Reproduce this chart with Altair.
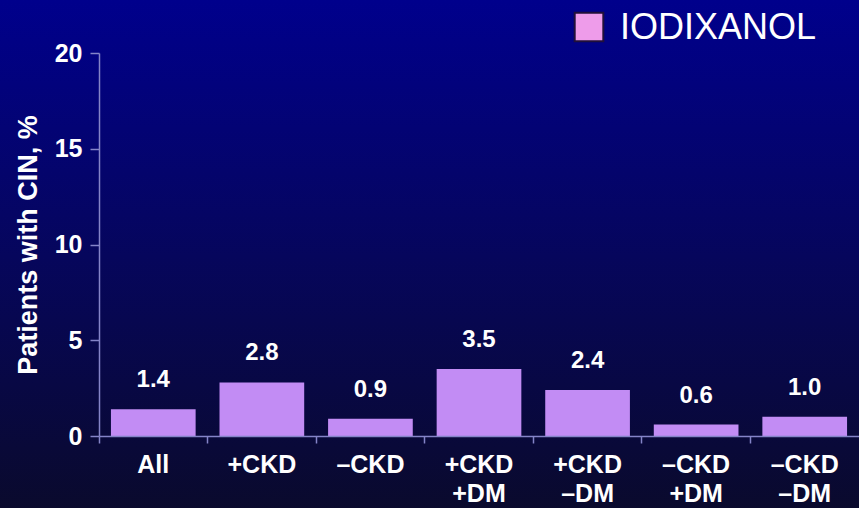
import altair as alt
import pandas as pd

# Contrast-induced nephropathy rates by subgroup (iodixanol)
groups = ["All", "+CKD", "–CKD", "+CKD|+DM", "+CKD|–DM", "–CKD|+DM", "–CKD|–DM"]
cin_pct = [1.4, 2.8, 0.9, 3.5, 2.4, 0.6, 1.0]
series_name = "IODIXANOL"

FONT = "Liberation Sans"
BAR = "#C28CF4"
AXIS = "#8484C8"

df = pd.DataFrame({"group": groups, "cin": cin_pct})
legend_df = pd.DataFrame({"series": [series_name]})

W, H = 760, 383
PAD_L, PAD_T, PAD_B = 99, 53, 72

# slide-style gradient backdrop spanning the whole canvas
backdrop = alt.Chart(legend_df).mark_rect(
    fill=alt.Gradient(
        gradient="linear", x1=0, y1=0, x2=0, y2=1,
        stops=[
            alt.GradientStop(offset=0, color="#00008C"),
            alt.GradientStop(offset=0.5, color="#06065C"),
            alt.GradientStop(offset=1, color="#0A0A2C"),
        ],
    )
).encode(
    x=alt.value(-PAD_L), x2=alt.value(W + 10),
    y=alt.value(-PAD_T), y2=alt.value(H + PAD_B + 5),
)

x_enc = alt.X(
    "group:N", sort=None, title=None,
    scale=alt.Scale(paddingInner=0.22, paddingOuter=0.11),
    axis=alt.Axis(
        labelExpr="split(datum.label, '|')",
        labelAngle=0, labelFont=FONT, labelFontSize=25, labelFontWeight="bold",
        labelColor="white", labelPadding=9, labelLineHeight=29,
        domainColor=AXIS, domainWidth=1.5, tickColor=AXIS, tickWidth=1.5,
        tickSize=7, bandPosition=-0.141, zindex=1,
    ),
)
y_enc = alt.Y(
    "cin:Q", title="Patients with CIN, %",
    scale=alt.Scale(domain=[0, 20], nice=False),
    axis=alt.Axis(
        values=[0, 5, 10, 15, 20], grid=False,
        labelFont=FONT, labelFontSize=25, labelFontWeight="bold", labelColor="white",
        labelPadding=8, tickSize=9, tickColor=AXIS, tickWidth=1.5,
        domainColor=AXIS, domainWidth=1.5,
        titleFont=FONT, titleFontSize=27, titleFontWeight="bold", titleColor="white",
        titlePadding=12, zindex=1,
    ),
)

bars = alt.Chart(df).mark_bar(color=BAR).encode(x=x_enc, y=y_enc)

values = alt.Chart(df).mark_text(
    dy=-17, baseline="bottom", font=FONT, fontSize=24, fontWeight="bold", color="white"
).encode(x=x_enc, y=y_enc, text=alt.Text("cin:Q", format=".1f"))

legend_box = alt.Chart(legend_df).mark_point(
    shape="square", filled=True, size=820, fill="#EE9CEA", stroke="#20103A",
    strokeWidth=2, opacity=1,
).encode(x=alt.value(490), y=alt.value(-26))

legend_text = alt.Chart(legend_df).mark_text(
    align="left", baseline="middle", font=FONT, fontSize=36, color="white"
).encode(x=alt.value(521), y=alt.value(-25), text="series:N")

chart = alt.layer(backdrop, bars, values, legend_box, legend_text).properties(
    width=W, height=H,
    padding={"left": PAD_L, "top": PAD_T, "right": 0, "bottom": PAD_B},
    autosize=alt.AutoSizeParams(type="none"),
).configure_view(stroke=None).configure(background="#05053A")

chart.save("out.html", embed_options={"renderer": "svg", "actions": False})
